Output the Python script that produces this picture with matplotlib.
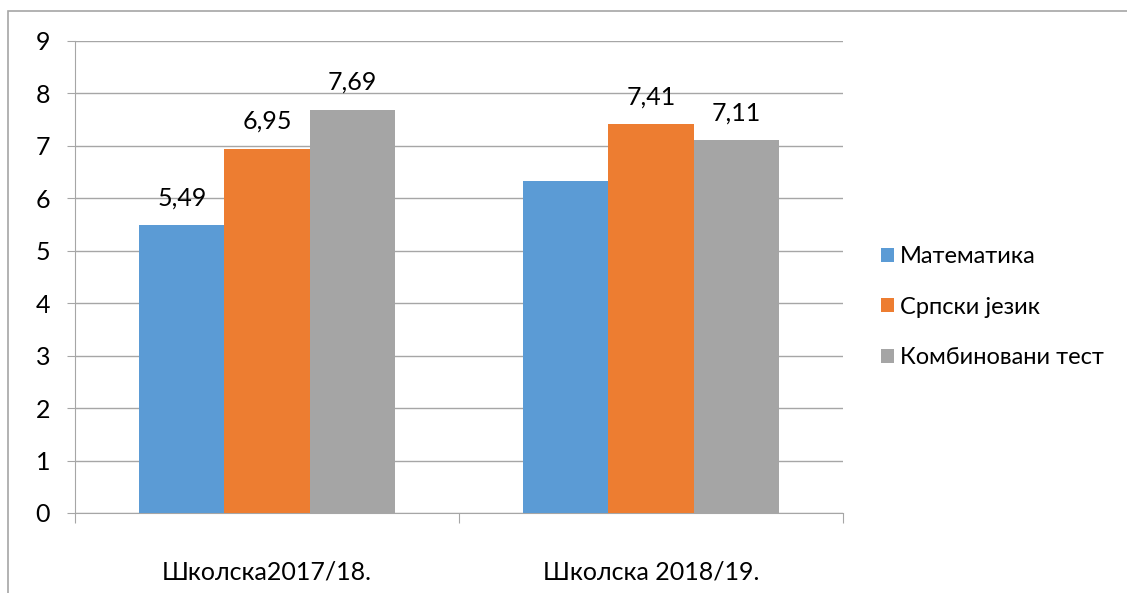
import matplotlib
matplotlib.use("Agg")
import matplotlib.pyplot as plt
from matplotlib.patches import Rectangle
import numpy as np

categories = ["Школска2017/18.", "Школска 2018/19."]
series_names = ["Математика", "Српски језик", "Комбиновани тест"]
math_vals = [5.49, 6.34]
serbian_vals = [6.95, 7.41]
combined_vals = [7.69, 7.11]
labels_math = ["5,49", None]
labels_serbian = ["6,95", "7,41"]
labels_combined = ["7,69", "7,11"]
colors = ["#5B9BD5", "#ED7D31", "#A5A5A5"]

plt.rcParams['font.family'] = ['Lato', 'DejaVu Sans']

fig = plt.figure(figsize=(11.27, 5.93), dpi=100)
# chart area border
fig.patches.append(Rectangle((8/1127, -0.1), 1.2, 1 - 11/593 + 0.1,
                             transform=fig.transFigure, fill=False,
                             edgecolor="#A6A6A6", linewidth=1.2))

ax = fig.add_axes([75/1127, 1 - 513/593, (843-75)/1127, (513-41)/593])

x = np.arange(len(categories))
w = 0.222
all_vals = [math_vals, serbian_vals, combined_vals]
all_labels = [labels_math, labels_serbian, labels_combined]
for i, (vals, labs) in enumerate(zip(all_vals, all_labels)):
    pos = x + (i - 1) * w
    bars = ax.bar(pos, vals, width=w, color=colors[i], label=series_names[i], zorder=3)
    for b, lab in zip(bars, labs):
        if lab:
            ax.annotate(lab, (b.get_x() + b.get_width()/2, b.get_height()),
                        xytext=(0, 11.5), textcoords="offset points",
                        ha="center", va="bottom", fontsize=18, color="#000000")

ax.set_xlim(-0.5, 1.5)
ax.set_ylim(0, 9)
ax.set_yticks(range(0, 10))
ax.yaxis.grid(True, color="#A6A6A6", linewidth=1, zorder=0)
ax.set_axisbelow(True)
for s in ["top", "right"]:
    ax.spines[s].set_visible(False)
ax.spines["left"].set_color("#A6A6A6")
ax.spines["bottom"].set_color("#A6A6A6")
ax.tick_params(axis="y", length=6, color="#A6A6A6", labelsize=18, pad=12)
ax.set_xticks([-0.5, 0.5, 1.5])
ax.set_xticklabels([])
ax.set_xticks(x, minor=True)
ax.set_xticklabels(categories, minor=True)
ax.tick_params(axis="x", which="major", length=7, color="#A6A6A6")
ax.tick_params(axis="x", which="minor", length=0, labelsize=18, pad=34)

ax.legend(loc="center left", bbox_to_anchor=(860/1127, 1 - 307/593), bbox_transform=fig.transFigure,
          frameon=False, fontsize=17, handlelength=0.55, handleheight=0.55,
          handletextpad=0.25, labelspacing=1.25)

fig.savefig("out.png", dpi=100)
